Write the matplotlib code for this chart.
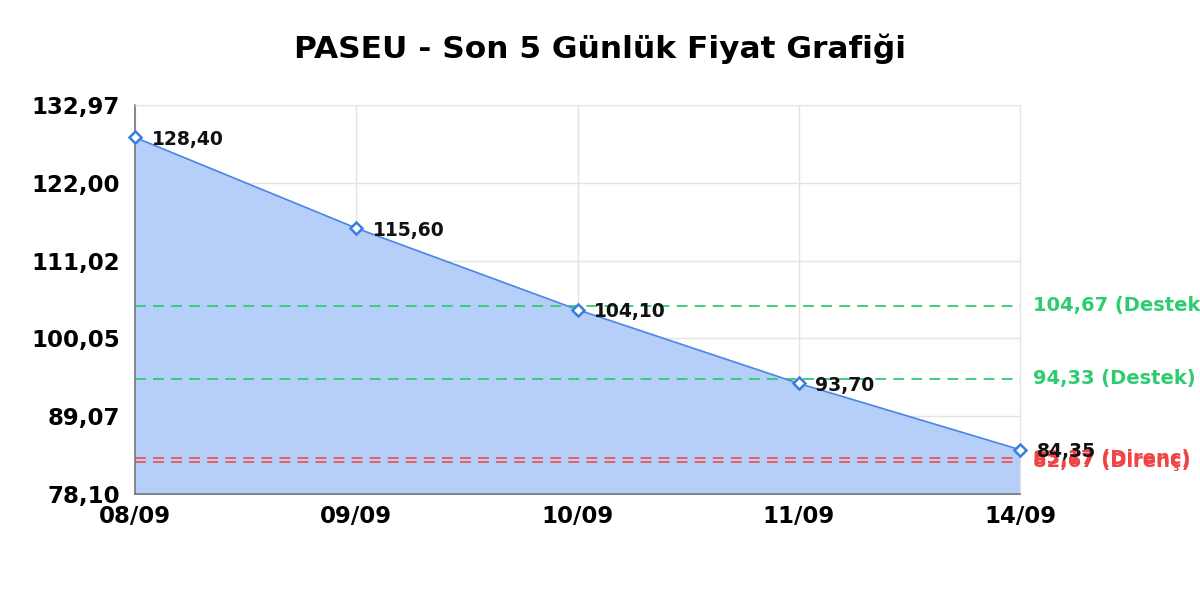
import matplotlib
matplotlib.use("Agg")
import matplotlib.pyplot as plt
import matplotlib.transforms as mtransforms

dates = ["08/09", "09/09", "10/09", "11/09", "14/09"]
prices = [128.40, 115.60, 104.10, 93.70, 84.35]
support_levels = [104.67, 94.33]
resistance_levels = [83.17, 82.67]
y_ticks = [78.10, 89.07, 100.05, 111.02, 122.00, 132.97]
title = "PASEU - Son 5 Günlük Fiyat Grafiği"

def fmt(v):
    return f"{v:.2f}".replace(".", ",")

fig = plt.figure(figsize=(12, 6), dpi=100)
ax = fig.add_axes([135/1200, 106/600, 885/1200, 389/600])

x = list(range(len(dates)))
ax.fill_between(x, prices, y_ticks[0], color="#b5cff8", zorder=1)
ax.plot(x, prices, color="#4a86e8", lw=1.2, zorder=3,
        marker="D", markersize=6, markerfacecolor="white",
        markeredgecolor="#3b7ddd", markeredgewidth=1.8, clip_on=False)

for xi, p in zip(x, prices):
    ax.annotate(fmt(p), (xi, p), xytext=(12, -1.5), textcoords="offset points",
                fontsize=13.5, fontweight="bold", color="#111111", va="center",
                zorder=5, annotation_clip=False)

trans = mtransforms.blended_transform_factory(ax.transAxes, ax.transData)
for lv in support_levels:
    ax.axhline(lv, color="#2ecc71", lw=1.3, ls=(0, (6, 4)), zorder=2)
    ax.text(1.0145, lv, f"{fmt(lv)} (Destek)", transform=trans, color="#2ecc71",
            fontsize=14, fontweight="bold", va="center", ha="left", clip_on=False)
for lv in resistance_levels:
    ax.axhline(lv, color="#ee5555", lw=1.3, ls=(0, (6, 4)), zorder=2)
    ax.text(1.0145, lv, f"{fmt(lv)} (Direnç)", transform=trans, color="#ee4444",
            fontsize=14, fontweight="bold", va="center", ha="left", clip_on=False)

ax.set_xlim(0, len(dates) - 1)
ax.set_ylim(y_ticks[0], y_ticks[-1])
ax.set_xticks(x)
ax.set_xticklabels(dates, fontsize=16.5, fontweight="bold")
ax.set_yticks(y_ticks)
ax.set_yticklabels([fmt(v) for v in y_ticks], fontsize=16.5, fontweight="bold")
ax.tick_params(length=0)
ax.tick_params(axis="x", pad=8)
ax.tick_params(axis="y", pad=11)
ax.grid(True, color="#e3e3e3", lw=1, zorder=0)
ax.set_axisbelow(True)
for s in ["top", "right"]:
    ax.spines[s].set_color("#e3e3e3")
for s in ["left", "bottom"]:
    ax.spines[s].set_color("#777777")
    ax.spines[s].set_linewidth(1.2)

fig.text(0.5, 0.918, title, ha="center", va="center", fontsize=22.5, fontweight="bold")

fig.savefig("out.png", dpi=100)
